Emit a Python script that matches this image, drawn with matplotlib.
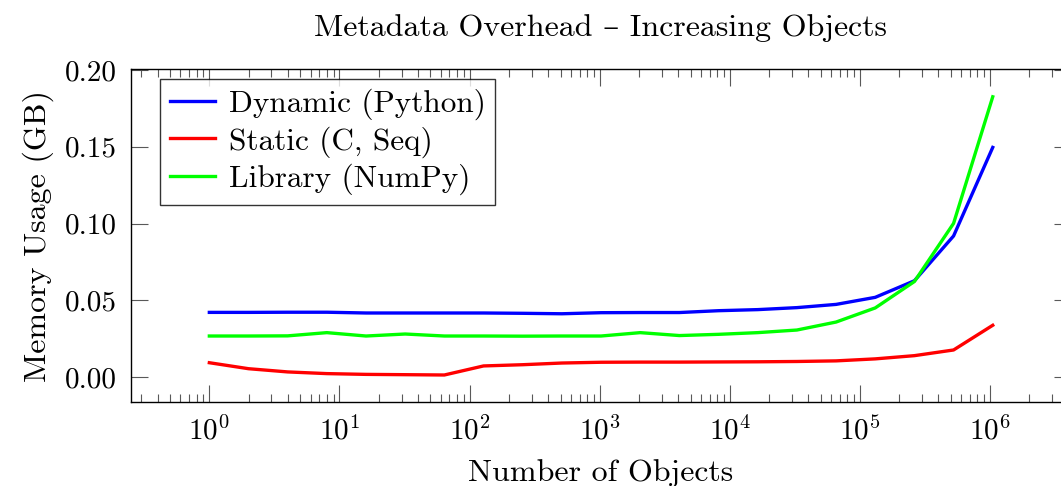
import matplotlib
matplotlib.use("Agg")
import matplotlib.pyplot as plt
from matplotlib.ticker import FormatStrFormatter, LogLocator, NullFormatter

plt.rcParams['font.family'] = ['cmr10', 'DejaVu Serif']
plt.rcParams['mathtext.fontset'] = 'cm'
plt.rcParams['axes.unicode_minus'] = False
plt.rcParams['axes.formatter.use_mathtext'] = True

# number of objects: 2^0 .. 2^20
n_objects = [2 ** k for k in range(21)]

dynamic_py = [0.0421, 0.0421, 0.0422, 0.0422, 0.0417, 0.0417, 0.0417, 0.0417, 0.0415, 0.0412,
              0.0419, 0.0420, 0.0420, 0.0432, 0.0439, 0.0452, 0.0473, 0.0519, 0.0627, 0.0919, 0.1496]
static_c = [0.0093, 0.0054, 0.0033, 0.0022, 0.0017, 0.0015, 0.0013, 0.0072, 0.0080, 0.0091,
            0.0096, 0.0097, 0.0097, 0.0098, 0.0099, 0.0101, 0.0105, 0.0118, 0.0139, 0.0176, 0.0337]
library_np = [0.0267, 0.0267, 0.0268, 0.0289, 0.0267, 0.0280, 0.0267, 0.0267, 0.0266, 0.0267,
              0.0267, 0.0289, 0.0270, 0.0278, 0.0289, 0.0306, 0.0358, 0.0450, 0.0622, 0.1001, 0.1826]
x_ticks = [1, 10, 100, 1000, 10000, 100000, 1000000]

fig = plt.figure(figsize=(10.61, 4.86), dpi=100)
ax = fig.add_axes([131 / 1061, 1 - 402 / 486, (1071 - 131) / 1061, (402 - 69) / 486])

ax.plot(n_objects, dynamic_py, color='#0000ff', lw=2.4, label='Dynamic (Python)')
ax.plot(n_objects, static_c, color='#ff0000', lw=2.4, label='Static (C, Seq)')
ax.plot(n_objects, library_np, color='#00ff00', lw=2.4, label='Library (NumPy)')

ax.set_xscale('log')
ax.set_xlim(10 ** -0.602, 10 ** 6.622)
ax.set_ylim(-0.0163, 0.2007)
ax.set_yticks([0.0, 0.05, 0.10, 0.15, 0.20])
ax.yaxis.set_major_formatter(FormatStrFormatter('%.2f'))
ax.set_xticks(x_ticks)
ax.xaxis.set_minor_locator(LogLocator(base=10, subs=range(2, 10), numticks=100))
ax.xaxis.set_minor_formatter(NullFormatter())

ax.tick_params(which='both', direction='in', top=True, right=True, color='0.35', width=0.8)
ax.tick_params(which='major', length=12, labelsize=21, pad=10)
ax.tick_params(which='minor', length=6)
for s in ax.spines.values():
    s.set_linewidth(1.0)

ax.set_title('Metadata Overhead – Increasing Objects', fontsize=23, pad=24)
ax.set_xlabel('Number of Objects', fontsize=23, labelpad=10)
ax.set_ylabel('Memory Usage (GB)', fontsize=23, labelpad=8)

leg = ax.legend(loc='upper left', bbox_to_anchor=(0.031, 0.97), borderaxespad=0,
                fontsize=22.5, frameon=True, fancybox=False,
                edgecolor='black', handlelength=1.45, borderpad=0.3,
                labelspacing=0.2, handletextpad=0.45)
leg.get_frame().set_linewidth(1.0)

fig.savefig('out.png', dpi=100)
